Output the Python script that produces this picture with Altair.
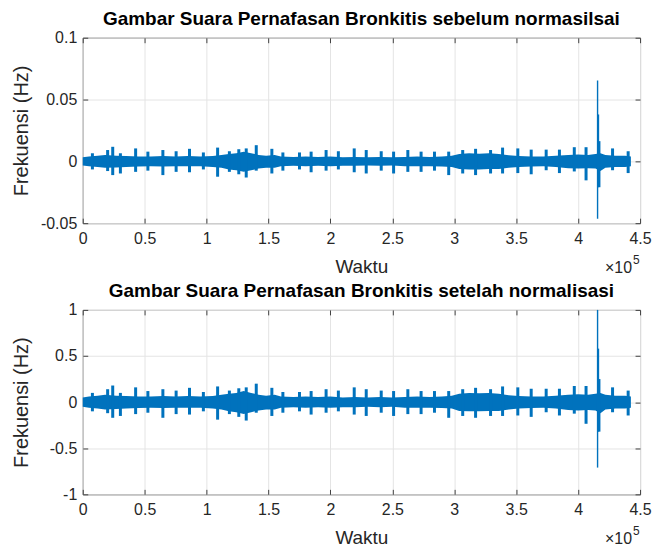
import altair as alt
import pandas as pd

# ---------------- data (normalised units) ----------------
# baseline envelope of the breathing-sound waveform
band_x = [0, 5000, 12000, 18000, 27000, 35000, 45000, 55000, 65000, 75000, 85000, 95000,
          105000, 112000, 118000, 124000, 130000, 136000, 142000, 148000, 155000, 160000,
          170000, 180000, 190000, 200000, 210000, 220000, 230000, 240000, 250000, 260000,
          270000, 280000, 290000, 298000, 304000, 312000, 320000, 328000, 336000, 344000,
          352000, 362000, 372000, 382000, 392000, 400000, 408000, 414000, 418000, 422000,
          430000, 438000, 442600]
band_hi = [0.05, 0.06, 0.07, 0.08, 0.07, 0.065, 0.06, 0.06, 0.065, 0.06, 0.065, 0.06,
           0.065, 0.08, 0.09, 0.10, 0.12, 0.10, 0.08, 0.07, 0.08, 0.06,
           0.055, 0.06, 0.055, 0.06, 0.05, 0.055, 0.05, 0.055, 0.05, 0.055,
           0.06, 0.055, 0.06, 0.07, 0.09, 0.10, 0.095, 0.10, 0.09, 0.075,
           0.065, 0.06, 0.06, 0.07, 0.08, 0.085, 0.08, 0.09, 0.10, 0.08,
           0.07, 0.07, 0.06]
band_lo = [-0.05, -0.06, -0.07, -0.08, -0.075, -0.07, -0.065, -0.06, -0.065, -0.06, -0.06, -0.06,
           -0.07, -0.08, -0.10, -0.11, -0.13, -0.11, -0.09, -0.08, -0.08, -0.06,
           -0.055, -0.06, -0.055, -0.06, -0.055, -0.055, -0.05, -0.055, -0.05, -0.06,
           -0.06, -0.06, -0.065, -0.07, -0.095, -0.10, -0.10, -0.095, -0.095, -0.08,
           -0.07, -0.065, -0.06, -0.07, -0.085, -0.09, -0.085, -0.09, -0.12, -0.08,
           -0.07, -0.07, -0.06]

# individual bursts (crackles / breath onsets)
burst_x = [7800, 20100, 24200, 30400, 42700, 52600, 64700, 75400, 86200, 97400, 108900,
           118400, 126000, 132000, 140100, 152700, 161600, 175000, 184400, 196500, 206400,
           219200, 228900, 241000, 251000, 262500, 273200, 284000, 295500, 306800, 317200,
           329300, 339000, 351300, 362100, 374200, 384900, 396900, 406400, 427800, 440400]
burst_hi = [0.10, 0.14, 0.18, 0.10, 0.16, 0.12, 0.14, 0.125, 0.155, 0.11, 0.17,
            0.125, 0.15, 0.16, 0.20, 0.155, 0.11, 0.11, 0.12, 0.14, 0.125,
            0.16, 0.14, 0.125, 0.12, 0.14, 0.12, 0.12, 0.12, 0.14, 0.155,
            0.14, 0.17, 0.16, 0.145, 0.145, 0.145, 0.175, 0.175, 0.16, 0.125]
burst_lo = [-0.10, -0.12, -0.17, -0.15, -0.13, -0.115, -0.17, -0.13, -0.135, -0.10, -0.19,
            -0.13, -0.16, -0.20, -0.115, -0.15, -0.115, -0.10, -0.135, -0.115, -0.10,
            -0.135, -0.15, -0.115, -0.15, -0.13, -0.13, -0.115, -0.17, -0.15, -0.17,
            -0.15, -0.15, -0.145, -0.16, -0.11, -0.145, -0.125, -0.235, -0.11, -0.145]

# the large artefact near 4.16e5
spike_x = [415700, 416100, 416800]
spike_hi = [1.0, 0.58, 0.25]
spike_lo = [-0.71, -0.32, -0.32]

PEAK_RAW = 0.0654   # peak of the raw recording (top panel)

x_ticks = [0, 50000, 100000, 150000, 200000, 250000, 300000, 350000, 400000, 450000]
top_yticks = [-0.05, 0, 0.05, 0.1]
bot_yticks = [-1, -0.5, 0, 0.5, 1]

# ---------------- style ----------------
BLUE = "#0072BD"
AX = "#404040"
GRID = "#e4e4e4"
TEXT = "#262626"
FONT = "Liberation Sans"
W = 559


def tick_axis(orient, values, offset):
    return alt.Axis(orient=orient, values=values, offset=offset, labels=False, domain=False,
                    grid=False, ticks=True, tickSize=5, tickColor=AX, tickWidth=1, title=None)


def panel(scale, ydom, yticks, title_text, H):
    band = pd.DataFrame({"x": band_x,
                         "hi": [v * scale for v in band_hi],
                         "lo": [v * scale for v in band_lo]})
    bursts = pd.DataFrame({"x": burst_x,
                           "hi": [v * scale for v in burst_hi],
                           "lo": [v * scale for v in burst_lo]})
    spikes = pd.DataFrame({"x": spike_x,
                           "hi": [v * scale for v in spike_hi],
                           "lo": [v * scale for v in spike_lo],
                           "w": [1.4, 2.2, 3.0]})
    xs = alt.Scale(domain=[0, 450000], nice=False, zero=False)
    ys = alt.Scale(domain=ydom, nice=False, zero=False)

    main_x = alt.Axis(orient="bottom", values=x_ticks,
                      labelExpr="toString(datum.value/100000)",
                      labelFont=FONT, labelFontSize=16, labelColor=TEXT, labelPadding=7,
                      labelFlush=False,
                      title="Waktu", titleFont=FONT, titleFontSize=19, titleFontWeight="normal",
                      titleColor=TEXT, titleY=43, titleBaseline="middle",
                      grid=True, gridColor=GRID, ticks=False, domain=False)
    main_y = alt.Axis(orient="left", values=yticks,
                      labelExpr="toString(datum.value)",
                      labelFont=FONT, labelFontSize=16, labelColor=TEXT, labelPadding=6,
                      labelFlush=False,
                      title="Frekuensi (Hz)", titleFont=FONT, titleFontSize=20,
                      titleFontWeight="normal", titleColor=TEXT, titleX=-61,
                      titleBaseline="middle",
                      grid=True, gridColor=GRID, ticks=False, domain=False)

    base = alt.Chart(band).mark_area(color=BLUE, opacity=1).encode(
        x=alt.X("x:Q", scale=xs, axis=main_x),
        y=alt.Y("hi:Q", scale=ys, axis=main_y),
        y2="lo:Q",
    )
    burst_layer = alt.Chart(bursts).mark_rule(color=BLUE, strokeWidth=3).encode(
        x=alt.X("x:Q", scale=xs, axis=None),
        y=alt.Y("hi:Q", scale=ys, axis=None),
        y2="lo:Q",
    )
    spike_layer = alt.Chart(spikes).mark_rule(color=BLUE).encode(
        x=alt.X("x:Q", scale=xs, axis=None),
        y=alt.Y("hi:Q", scale=ys, axis=None),
        y2="lo:Q",
        strokeWidth=alt.StrokeWidth("w:Q", scale=None, legend=None),
    )
    ticks_a = alt.Chart(band).mark_point(opacity=0, size=1).encode(
        x=alt.X("x:Q", scale=xs, axis=tick_axis("top", x_ticks, -H)),
        y=alt.Y("hi:Q", scale=ys, axis=tick_axis("right", yticks, -W)),
    )
    ticks_b = alt.Chart(band).mark_point(opacity=0, size=1).encode(
        x=alt.X("x:Q", scale=xs, axis=tick_axis("bottom", x_ticks, -H)),
        y=alt.Y("hi:Q", scale=ys, axis=tick_axis("left", yticks, -W)),
    )
    times = alt.Chart(pd.DataFrame({"t": ["\u00d710"]})).mark_text(
        font=FONT, fontSize=16, color=TEXT, align="right", baseline="middle").encode(
        x=alt.value(W - 8), y=alt.value(H + 45), text="t:N")
    exp = alt.Chart(pd.DataFrame({"t": ["5"]})).mark_text(
        font=FONT, fontSize=12, color=TEXT, align="left", baseline="middle").encode(
        x=alt.value(W - 7), y=alt.value(H + 37), text="t:N")

    return alt.layer(base, burst_layer, spike_layer, ticks_a, ticks_b, times, exp).resolve_scale(
        x="independent", y="independent"
    ).properties(
        width=W, height=H,
        title=alt.TitleParams(title_text, font=FONT, fontSize=19, fontWeight="bold",
                              color="#000000", anchor="middle", frame="group", offset=1),
    )


top = panel(PEAK_RAW, [-0.05, 0.1], top_yticks,
            "Gambar Suara Pernafasan Bronkitis sebelum normasilsai", 186)
bottom = panel(1.0, [-1, 1], bot_yticks,
               "Gambar Suara Pernafasan Bronkitis setelah normalisasi", 185)

chart = alt.vconcat(top, bottom, spacing=87).properties(
    bounds="flush",
    padding={"left": 11, "top": 8, "right": 4, "bottom": 2},
    background="white",
).configure_view(stroke=AX, strokeWidth=1)

chart.save("out.html", embed_options={"renderer": "svg", "actions": False})
